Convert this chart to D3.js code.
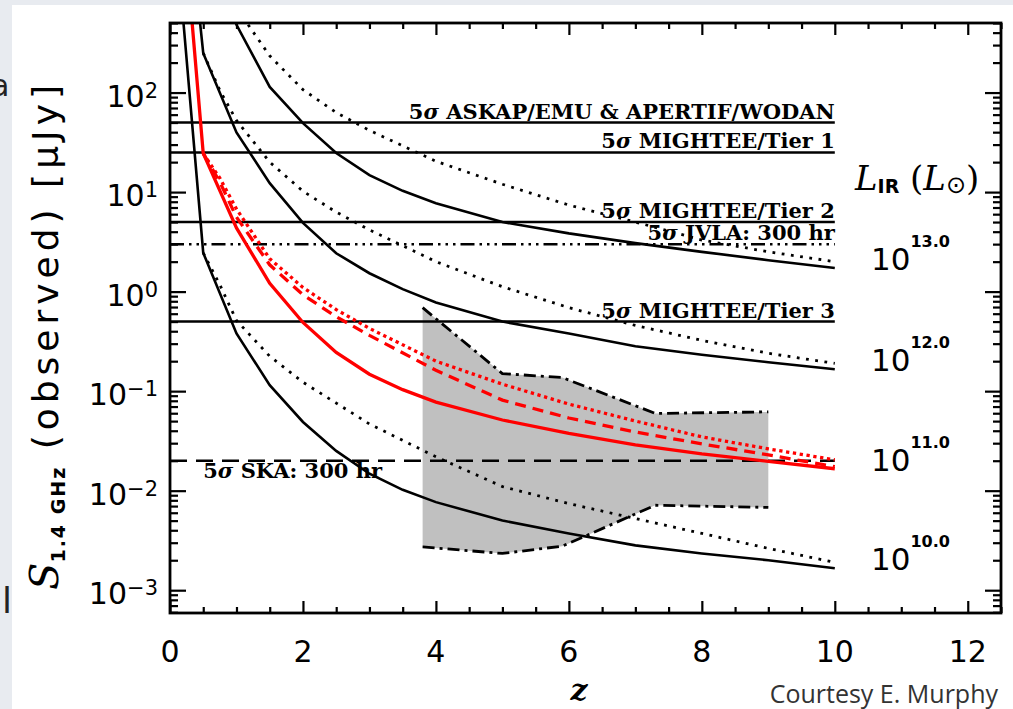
<!DOCTYPE html>
<html>
<head>
<meta charset="utf-8">
<script src="https://cdn.jsdelivr.net/npm/d3@7"></script>
<style>
  body { margin: 0; background: #e8ebf0; }
  svg { display: block; }
</style>
</head>
<body>
<svg id="chart" width="1013" height="709"></svg>
<script>
'use strict';

// redshift grids and observed 1.4 GHz flux densities (uJy)
var z13 = [0.5, 1, 1.5, 2, 2.5, 3, 3.5, 4, 5, 6, 7, 8, 9, 10]
var s13 = [4000, 480, 114, 49.3, 24.7, 14.8, 10.3, 7.74, 5.0, 3.85, 3.07, 2.51, 2.07, 1.73]
var z13dot = [0.5, 1, 1.5, 2, 2.5, 3, 4, 5, 6, 7, 8, 9, 10]
var s13dot = [4000, 708, 234, 107, 63, 41.7, 20.4, 12.0, 7.4, 5.0, 3.3, 2.51, 2.0]

var z12 = [0.25, 0.5, 1, 1.5, 2, 2.5, 3, 3.5, 4, 5, 6, 7, 8, 9, 10]
var s12 = [10000, 249, 39.8, 12.3, 4.9, 2.43, 1.53, 1.06, 0.776, 0.50, 0.38, 0.282, 0.232, 0.195, 0.166]
var z12dot = [0.5, 0.75, 1, 1.5, 2, 2.5, 3, 4, 5, 6, 7, 8, 9, 10]
var s12dot = [249, 105, 52.5, 20, 10.2, 6.3, 4.17, 2.0, 1.12, 0.69, 0.457, 0.324, 0.24, 0.19]

var z11 = [0.25, 0.5, 1, 1.5, 2, 2.5, 3, 3.5, 4, 5, 6, 7, 8, 9, 10]
var s11 = [2240, 24.5, 4.37, 1.21, 0.49, 0.245, 0.148, 0.1035, 0.0776, 0.0513, 0.0376, 0.0288, 0.0234, 0.0197, 0.0166]
var z11alt = [0.5, 0.75, 1, 1.5, 2, 2.5, 3, 4, 5, 6, 7, 8, 9, 10]
var s11dash = [24.5, 12.6, 5.6, 1.86, 0.93, 0.56, 0.363, 0.162, 0.0813, 0.0537, 0.0389, 0.0295, 0.0229, 0.0174]
var s11dot = [24.5, 13.8, 6.76, 2.14, 1.10, 0.66, 0.427, 0.20, 0.1175, 0.0741, 0.0501, 0.0347, 0.0263, 0.0204]

var z10 = [0.1, 0.5, 1, 1.5, 2, 2.5, 3, 3.5, 4, 5, 6, 7, 8, 9, 10]
var s10 = [3160, 2.45, 0.38, 0.115, 0.049, 0.0251, 0.0148, 0.0102, 0.00767, 0.00501, 0.00372, 0.00282, 0.00234, 0.002, 0.00166]
var z10dot = [0.5, 0.75, 1, 1.5, 2, 2.5, 3, 4, 5, 6, 7, 8, 9, 10]
var s10dot = [2.45, 1.17, 0.513, 0.224, 0.123, 0.0759, 0.0468, 0.0219, 0.011, 0.00741, 0.00525, 0.00372, 0.00263, 0.0019]

// grey band
var zBand = [3.8, 5, 5.9, 7.3, 9]
var bandHi = [0.69, 0.15, 0.137, 0.0597, 0.0619]
var bandLo = [0.00272, 0.00234, 0.00277, 0.00714, 0.00678]

// survey 5 sigma limits
var surveyNames = ['ASKAP/EMU & APERTIF/WODAN', 'MIGHTEE/Tier 1', 'MIGHTEE/Tier 2', 'JVLA: 300 hr', 'MIGHTEE/Tier 3', 'SKA: 300 hr']
var surveyLimits = [50, 25, 5, 3, 0.5, 0.02]

var lirExp = ['13.0', '12.0', '11.0', '10.0']
var xTicks = [0, 2, 4, 6, 8, 10, 12]
var yExp = [-3, -2, -1, 0, 1, 2]

var svg = d3.select('#chart')
var L = 170, R = 1001, T = 23, B = 613

var x = d3.scaleLinear().domain([0, 12.5]).range([L, R])
var y = d3.scaleLog().domain([5.9e-4, 500]).range([B, T])

var zip = function(a, b) { return a.map(function(v, i) { return [v, b[i]] }) }

svg.append('rect').attr('x', 12).attr('y', 5).attr('width', 1013).attr('height', 709).attr('fill', '#fff')
// bits of the neighbouring slide
svg.append('text').attr('x', -9).attr('y', 96).attr('font-family', 'DejaVu Sans')
  .attr('font-size', 30).attr('fill', '#222').text('a')
svg.append('text').attr('x', 2).attr('y', 613).attr('font-family', 'DejaVu Sans')
  .attr('font-size', 36).attr('fill', '#222').text('l')

svg.append('clipPath').attr('id', 'plot')
  .append('rect').attr('x', L).attr('y', T).attr('width', R - L).attr('height', B - T)

var plot = svg.append('g').attr('clip-path', 'url(#plot)')
var line = d3.line().x(function(d) { return x(d[0]) }).y(function(d) { return y(d[1]) })

// band
var band = zBand.map(function(z, i) { return { z: z, hi: bandHi[i], lo: bandLo[i] } })
plot.append('path').datum(band)
  .attr('d', d3.area().x(function(d) { return x(d.z) })
    .y0(function(d) { return y(d.lo) }).y1(function(d) { return y(d.hi) }))
  .attr('fill', '#c0c0c0')
;[zip(zBand, bandHi), zip(zBand, bandLo)].forEach(function(pts) {
  plot.append('path').datum(pts).attr('d', line).attr('fill', 'none')
    .attr('stroke', '#000').attr('stroke-width', 2.8).attr('stroke-dasharray', '12,5,3,5')
})

// survey limits
var limitDash = [null, null, null, '14,5,2.5,5,2.5,5,2.5,5', null, '17,9']
surveyLimits.forEach(function(v, i) {
  plot.append('path').datum([[0, v], [10, v]]).attr('d', line)
    .attr('stroke', '#000').attr('stroke-width', 2.5)
    .attr('stroke-dasharray', limitDash[i])
})

// luminosity tracks
var tracks = [
    { z: z13, s: s13, c: '#000', w: 2.6, dash: null }
  , { z: z13dot, s: s13dot, c: '#000', w: 2.8, dash: '2.8,6.5' }
  , { z: z12, s: s12, c: '#000', w: 2.6, dash: null }
  , { z: z12dot, s: s12dot, c: '#000', w: 2.8, dash: '2.8,6.5' }
  , { z: z10, s: s10, c: '#000', w: 2.6, dash: null }
  , { z: z10dot, s: s10dot, c: '#000', w: 2.8, dash: '2.8,6.5' }
  , { z: z11alt, s: s11dot, c: '#f00', w: 3.3, dash: '3.3,3.6' }
  , { z: z11alt, s: s11dash, c: '#f00', w: 3.3, dash: '11,7' }
  , { z: z11, s: s11, c: '#f00', w: 3.3, dash: null }
]
tracks.forEach(function(t) {
  plot.append('path').datum(zip(t.z, t.s)).attr('d', line).attr('fill', 'none')
    .attr('stroke', t.c).attr('stroke-width', t.w).attr('stroke-dasharray', t.dash)
})

// survey labels
var lab = svg.append('g').attr('font-family', 'DejaVu Serif').attr('font-weight', 'bold')
  .attr('font-size', 21).attr('fill', '#000')
surveyLimits.forEach(function(v, i) {
  var last = i === surveyLimits.length - 1
  var t = lab.append('text')
    .attr('x', last ? x(0.5) : x(10))
    .attr('y', last ? y(v) + 17 : y(v) - 4)
    .attr('text-anchor', last ? 'start' : 'end')
  t.append('tspan').text('5')
  t.append('tspan').attr('font-style', 'italic').text('σ')
  t.append('tspan').text(' ' + surveyNames[i])
})

// axes
var yMajor = yExp.map(function(e) { return Math.pow(10, e) })
var yMinor = []
for (var e = -4; e <= 2; e++)
  for (var k = 2; k <= 9; k++) {
    var v = k * Math.pow(10, e)
    if (v >= 5.9e-4 && v <= 500) yMinor.push(v)
  }
var xMinor = d3.range(0, 12.51, 0.5).filter(function(v) { return v % 2 !== 0 })

function ticks(axis, tx, ty) {
  var g = svg.append('g').attr('transform', 'translate(' + [tx, ty] + ')').call(axis.tickFormat(''))
  g.select('.domain').remove()
  g.selectAll('line').attr('stroke-width', 2.2)
}
ticks(d3.axisLeft(y).tickValues(yMajor).tickSize(-16), L, 0)
ticks(d3.axisLeft(y).tickValues(yMinor).tickSize(-8), L, 0)
ticks(d3.axisRight(y).tickValues(yMajor).tickSize(-16), R, 0)
ticks(d3.axisRight(y).tickValues(yMinor).tickSize(-8), R, 0)
ticks(d3.axisBottom(x).tickValues(xTicks).tickSize(-12), 0, B)
ticks(d3.axisBottom(x).tickValues(xMinor).tickSize(-6), 0, B)
ticks(d3.axisTop(x).tickValues(xTicks).tickSize(-12), 0, T)
ticks(d3.axisTop(x).tickValues(xMinor).tickSize(-6), 0, T)

svg.append('rect').attr('x', L).attr('y', T).attr('width', R - L).attr('height', B - T)
  .attr('fill', 'none').attr('stroke', '#000').attr('stroke-width', 2.8)

var tl = svg.append('g').attr('font-family', 'DejaVu Sans').attr('fill', '#000')
yExp.forEach(function(e) {
  var t = tl.append('text').attr('x', 158).attr('y', y(Math.pow(10, e)) + 14)
    .attr('text-anchor', 'end').attr('font-size', 30)
  t.append('tspan').text('10')
  t.append('tspan').attr('font-size', 21).attr('dy', -9).text(e < 0 ? '−' + (-e) : e)
})
xTicks.forEach(function(v) {
  tl.append('text').attr('x', x(v)).attr('y', 662).attr('text-anchor', 'middle')
    .attr('font-size', 30).text(v)
})

// luminosity labels at the end of each solid track
;[s13, s12, s11, s10].forEach(function(s, i) {
  var t = tl.append('text').attr('x', 871).attr('y', y(s[s.length - 1]) + 2).attr('font-size', 31)
  t.append('tspan').text('10')
  t.append('tspan').attr('font-size', 16).attr('font-weight', 'bold').attr('dy', -23).text(lirExp[i])
})

var lir = svg.append('text').attr('x', 855).attr('y', 190).attr('font-family', 'DejaVu Serif').attr('font-size', 34)
lir.append('tspan').attr('font-style', 'italic').text('L')
lir.append('tspan').attr('font-family', 'DejaVu Sans').attr('font-weight', 'bold').attr('font-size', 19).attr('dy', 3).text('IR')
lir.append('tspan').attr('dy', -3).text(' (')
lir.append('tspan').attr('font-style', 'italic').text('L')
lir.append('tspan').attr('font-family', 'DejaVu Sans').attr('font-size', 24).attr('dy', 3).text('⊙')
lir.append('tspan').attr('dy', -3).text(')')

// axis titles
var yt = svg.append('text').attr('transform', 'translate(58,590) rotate(-90)')
  .attr('font-family', 'DejaVu Sans').attr('font-size', 36).attr('fill', '#000')
yt.append('tspan').attr('font-family', 'DejaVu Serif').attr('font-style', 'italic').attr('font-size', 40).text('S')
yt.append('tspan').attr('font-weight', 'bold').attr('font-size', 19).attr('letter-spacing', 2).attr('dy', 7).text('1.4 GHz')
yt.append('tspan').attr('dy', -7).attr('letter-spacing', 5).text(' (observed) [μJy]')

svg.append('text').attr('x', 579).attr('y', 700).attr('text-anchor', 'middle')
  .attr('font-family', 'DejaVu Serif').attr('font-style', 'italic').attr('font-weight', 'bold')
  .attr('font-size', 30).text('z')

svg.append('text').attr('x', 998).attr('y', 703).attr('text-anchor', 'end')
  .attr('font-family', 'Open Sans').attr('font-size', 25).attr('fill', '#333')
  .text('Courtesy E. Murphy')
</script>
</body>
</html>
